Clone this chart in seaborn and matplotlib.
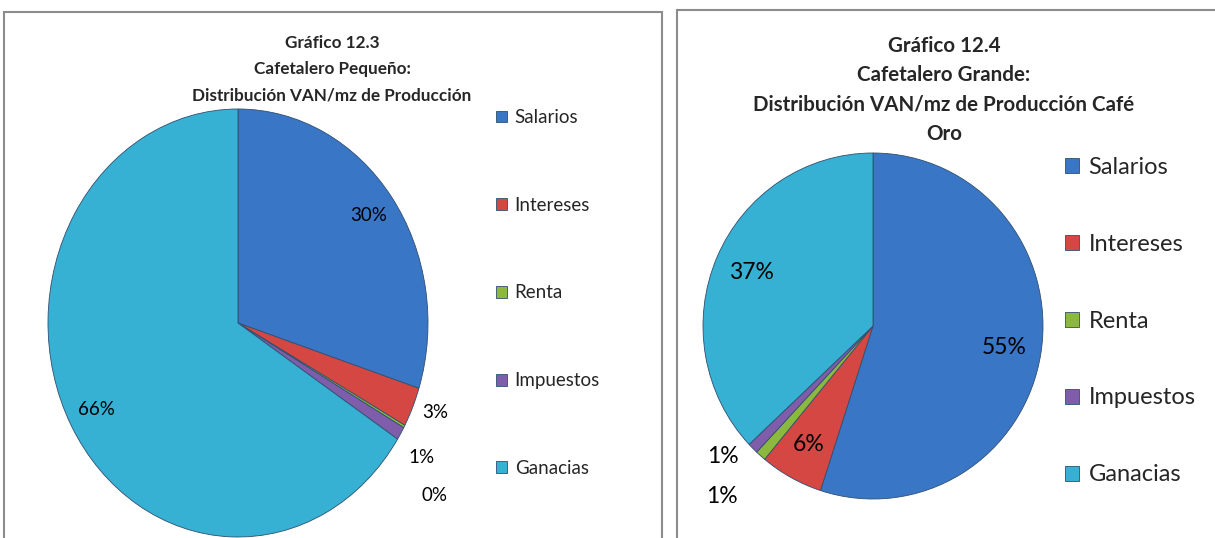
"""
Distribución VAN/mz de Producción - Cafetalero Pequeño vs Grande
"""
import numpy as np
import matplotlib.pyplot as plt
import matplotlib.patches as mpatches
import seaborn as sns

# Data
categories = ['Salarios', 'Intereses', 'Renta', 'Impuestos', 'Ganacias']
pequeno_pct = [30, 3, 0.2, 1, 66]
grande_pct = [55, 6, 1, 1, 37]
pequeno_labels = ['30%', '3%', '0%', '1%', '66%']
grande_labels = ['55%', '6%', '1%', '1%', '37%']

titulo_pequeno = 'Gráfico 12.3\nCafetalero Pequeño:\nDistribución VAN/mz de Producción'
titulo_grande = 'Gráfico 12.4\nCafetalero Grande:\nDistribución VAN/mz de Producción Café\nOro'

sns.set_theme(style='white')
plt.rcParams['font.family'] = ['Lato', 'DejaVu Sans']

colors = sns.color_palette(['#3A76C6', '#D44742', '#8DB83F', '#7F5DAB', '#36B0D3'])
edge = '#2f4f6f'

W, H = 1215, 538
fig = plt.figure(figsize=(W / 100, H / 100), dpi=100)


def fx(px):
    return px / W


def fy(py):
    return 1 - py / H


# panel frames
fig.patches.append(mpatches.Rectangle((fx(4), fy(700)), fx(658), fy(12) - fy(700),
                                      transform=fig.transFigure, fill=False,
                                      edgecolor='#8c8c8c', linewidth=1.5))
fig.patches.append(mpatches.Rectangle((fx(677), fy(700)), fx(700), fy(10) - fy(700),
                                      transform=fig.transFigure, fill=False,
                                      edgecolor='#8c8c8c', linewidth=1.5))


def draw_pie(ax, values, labels, pct_size, pct_dist, outside):
    wedges, _ = ax.pie(values, colors=colors, startangle=90, counterclock=False,
                       wedgeprops=dict(edgecolor=edge, linewidth=0.6))
    total = sum(values)
    start = 90.0
    for i, (w, v) in enumerate(zip(wedges, values)):
        mid = start - v / total * 180
        start -= v / total * 360
        if i in outside:
            r, ang = outside[i]
        else:
            r, ang = pct_dist, mid
        a = np.deg2rad(ang)
        ax.text(r * np.cos(a), r * np.sin(a), labels[i], ha='center', va='center',
                fontsize=pct_size, color='black')
    ax.set_xlim(-1, 1)
    ax.set_ylim(-1, 1)
    ax.set_aspect('auto')
    ax.axis('off')
    return wedges


# Left pie
ax1 = fig.add_axes([fx(48), fy(537), fx(380), fy(109) - fy(537)])
w1 = draw_pie(ax1, pequeno_pct, pequeno_labels, 13.5, 0.85,
              {1: (1.12, -22), 2: (1.31, -38), 3: (1.15, -33)})

# Right pie
ax2 = fig.add_axes([fx(703), fy(499), fx(340), fy(153) - fy(499)])
w2 = draw_pie(ax2, grande_pct, grande_labels, 16.5, 0.78,
              {2: (1.33, -132), 3: (1.16, -139.5)})

# Titles
fig.text(fx(332), fy(69), titulo_pequeno, ha='center', va='center', fontsize=12.3,
         fontweight='bold', linespacing=1.77)
fig.text(fx(944), fy(90), titulo_grande, ha='center', va='center', fontsize=14.8,
         fontweight='bold', linespacing=1.58)

# Legends
handles = [mpatches.Patch(facecolor=c, edgecolor=edge, linewidth=0.6) for c in colors]
fig.legend(handles, categories, loc='center left', bbox_to_anchor=(fx(496), fy(293)),
           frameon=False, fontsize=13.5, labelspacing=3.77, handlelength=0.6,
           handleheight=0.6, handletextpad=0.4, borderpad=0, borderaxespad=0)
fig.legend(handles, categories, loc='center left', bbox_to_anchor=(fx(1065), fy(321)),
           frameon=False, fontsize=17, labelspacing=2.37, handlelength=0.6,
           handleheight=0.6, handletextpad=0.4, borderpad=0, borderaxespad=0)

plt.savefig('out.png', dpi=100)
